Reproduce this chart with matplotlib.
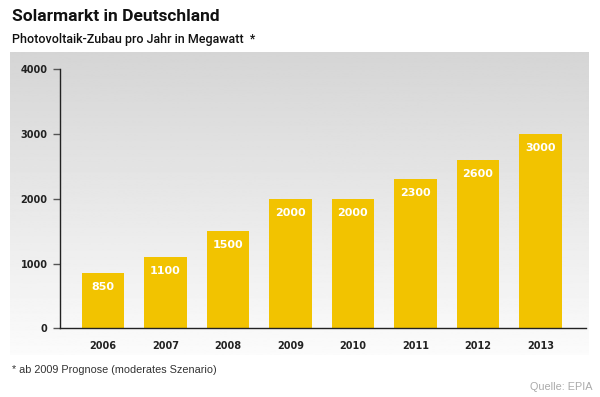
import matplotlib
matplotlib.use("Agg")
import matplotlib.pyplot as plt
import numpy as np

years = ["2006", "2007", "2008", "2009", "2010", "2011", "2012", "2013"]
values = [850, 1100, 1500, 2000, 2000, 2300, 2600, 3000]
yticks = [0, 1000, 2000, 3000, 4000]

title = "Solarmarkt in Deutschland"
subtitle = "Photovoltaik-Zubau pro Jahr in Megawatt  *"
footnote = "* ab 2009 Prognose (moderates Szenario)"
source = "Quelle: EPIA"

W, H = 600, 397
fig = plt.figure(figsize=(W / 100, H / 100), dpi=100)
fig.patch.set_facecolor("white")

# gradient background panel
bg = fig.add_axes([10 / W, 1 - 355 / H, 579 / W, 303 / H])
grad = np.linspace(0.835, 0.985, 256).reshape(-1, 1)
bg.imshow(grad, aspect="auto", cmap="gray", vmin=0, vmax=1, extent=[0, 1, 0, 1], origin="upper")
bg.set_axis_off()

ax = fig.add_axes([60 / W, 1 - 328.3 / H, 526 / W, 259 / H])
ax.patch.set_alpha(0)
x = np.arange(len(years))
ax.bar(x, values, width=0.68, color="#f2c300", zorder=2)
ax.set_xlim(-0.688, 7.73)
ax.set_ylim(0, 4000)
ax.set_yticks(yticks)
ax.set_yticklabels([str(t) for t in yticks], fontsize=7, fontweight="bold", color="#222222")
ax.set_xticks(x)
ax.set_xticklabels(years, fontsize=7, fontweight="bold", color="#222222")
ax.tick_params(axis="y", length=5, width=1, color="#555555", pad=4)
ax.tick_params(axis="x", length=0, pad=9)
for s in ["top", "right"]:
    ax.spines[s].set_visible(False)
for s in ["left", "bottom"]:
    ax.spines[s].set_color("#222222")
    ax.spines[s].set_linewidth(1)

for xi, v in zip(x, values):
    ax.annotate(str(v), xy=(xi, v), xytext=(0, -10), textcoords="offset points",
                ha="center", va="center", color="white", fontsize=8, fontweight="bold")

fig.text(12 / W, 1 - 16.5 / H, title, fontsize=12.5, fontweight="bold",
         family="Roboto", va="center", ha="left", color="#111111")
fig.text(12 / W, 1 - 39 / H, subtitle, fontsize=9, family="Roboto", fontweight="medium",
         va="center", ha="left", color="#111111")
fig.text(12 / W, 1 - 370 / H, footnote, fontsize=7.8, va="center", ha="left", color="#333333",
         family="Liberation Sans")
fig.text(592 / W, 1 - 387 / H, source, fontsize=7.8, va="center", ha="right", color="#aaaaaa",
         family="Liberation Sans")

fig.savefig("out.png", dpi=100)
